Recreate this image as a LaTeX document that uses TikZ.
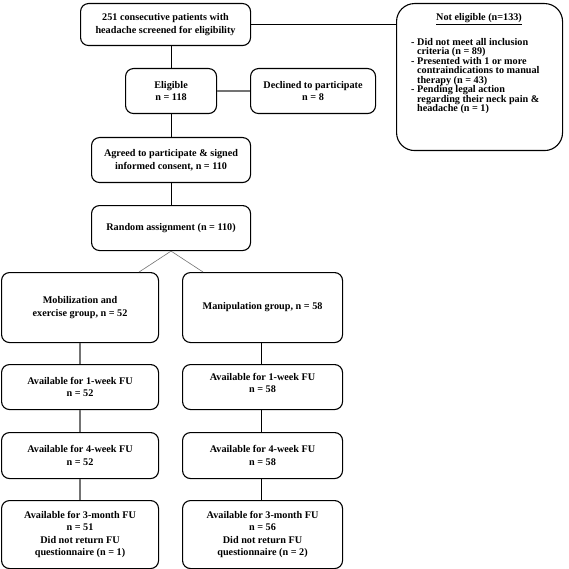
\documentclass[tikz,border=0pt]{standalone}
\usepackage{fontspec}
\setmainfont{Liberation Serif}
\usetikzlibrary{calc}
\tikzset{
  box/.style={draw=black, line width=1.1pt, rounded corners=8pt, anchor=north west,
    inner sep=0pt, align=center, font=\fontsize{10.2}{12.5}\selectfont\bfseries},
  bigbox/.style={draw=black, line width=1.1pt, rounded corners=18pt, anchor=north west, inner sep=0pt},
  blk/.style={draw=black, line width=0.8pt},
  gry/.style={draw=black!55, line width=1.6pt},
  diag/.style={draw=black!55, line width=0.6pt},
  txt/.style={inner sep=0pt, font=\fontsize{10.2}{9.5}\selectfont\bfseries}
}
\newcommand{\mkbox}[6]{% name x1 y1 x2 y2 text
  \node[box, minimum width={(#4-#2)*1pt}, minimum height={(#5-#3)*1pt}] (#1) at (#2,#3) {#6};}
\begin{document}
\begin{tikzpicture}[x=1pt,y=-1pt]
\useasboundingbox[fill=white] (0,0) rectangle (568,569);
\mkbox{top}{80}{3}{250}{45}{251 consecutive patients with\\headache screened for eligibility}
\mkbox{elig}{125}{68}{216}{113}{Eligible\\n = 118}
\mkbox{decl}{250}{68}{375}{113}{Declined to participate\\n = 8}
\node[bigbox, minimum width=166pt, minimum height=147pt] (notel) at (396,3) {};
\node[txt, anchor=center] (neT) at (479,19) {\underline{Not eligible (n=133)}};
\node[txt, anchor=north west, align=left] (neL) at (411,38) {%
- Did not meet all inclusion\\\hphantom{- }criteria (n = 89)\\
- Presented with 1 or more\\\hphantom{- }contraindications to manual\\\hphantom{- }therapy (n = 43)\\
- Pending legal action\\\hphantom{- }regarding their neck pain \&\\\hphantom{- }headache (n = 1)};
\mkbox{agr}{91}{137}{250}{182}{Agreed to participate \& signed\\informed consent, n = 110}
\mkbox{rand}{91}{205}{250}{250}{Random assignment (n = 110)}
\mkbox{mob}{1}{272}{158}{342}{Mobilization and\\exercise group, n = 52}
\mkbox{man}{182}{272}{342}{342}{Manipulation group, n = 58}
\mkbox{wlL}{1}{364}{158}{409}{Available for 1-week FU\\n = 52}
\mkbox{wlR}{182}{364}{342}{409}{Available for 1-week FU\\n = 58\\[-4pt]\mbox{}}
\mkbox{wfL}{1}{432}{158}{478}{Available for 4-week FU\\n = 52}
\mkbox{wfR}{182}{432}{342}{478}{Available for 4-week FU\\n = 58}
\mkbox{mtL}{1}{500}{158}{568}{Available for 3-month FU\\n = 51\\Did not return FU\\questionnaire (n = 1)}
\mkbox{mtR}{182}{500}{342}{568}{Available for 3-month FU\\n = 56\\Did not return FU\\questionnaire (n = 2)}
% connectors
\draw[blk] (top.east) -- (top.east -| notel.west);
\draw[blk] (elig.north) -- (elig.north |- top.south);
\draw[gry] (elig.east) -- (decl.west);
\draw[blk] (elig.south) -- (elig.south |- agr.north);
\draw[blk] (agr.south) -- (rand.north);
\draw[diag] (rand.south) -- ($(mob.north east)+(-20,0)$);
\draw[diag] (rand.south) -- ($(man.north west)+(21,0)$);
\draw[gry] ($(mob.south west)+(79,0)$) coordinate (c1) -- (c1 |- wlL.north);
\draw[gry] ($(wlL.south west)+(79,0)$) coordinate (c2) -- (c2 |- wfL.north);
\draw[gry] ($(wfL.south west)+(79,0)$) coordinate (c3) -- (c3 |- mtL.north);
\draw[blk] ($(man.south west)+(79,0)$) coordinate (d1) -- (d1 |- wlR.north);
\draw[blk] ($(wlR.south west)+(79,0)$) coordinate (d2) -- (d2 |- wfR.north);
\draw[blk] ($(wfR.south west)+(79,0)$) coordinate (d3) -- (d3 |- mtR.north);
\end{tikzpicture}
\end{document}
